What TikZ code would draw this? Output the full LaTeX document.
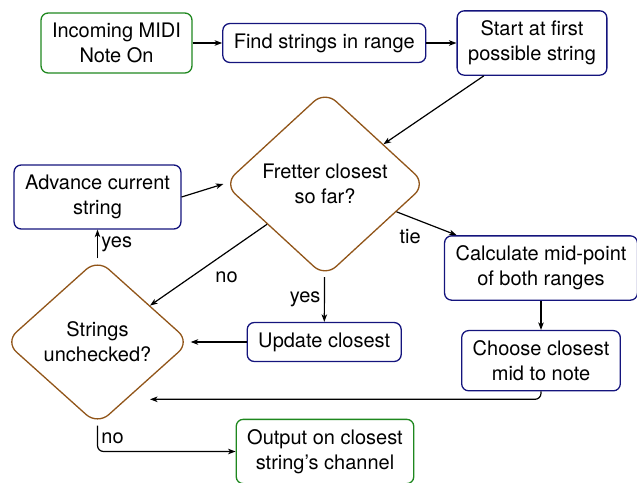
\documentclass[tikz,border=0pt]{standalone}
\usepackage{fontspec}
\setmainfont{TeX Gyre Heros}
\usepackage[svgnames]{xcolor}
\usetikzlibrary{shapes.geometric}
\usetikzlibrary{arrows.meta}

\definecolor{termgreen}{RGB}{30,135,30}
\definecolor{stepblue}{RGB}{20,20,125}
\definecolor{askbrown}{RGB}{145,85,25}

\begin{document}
\begin{tikzpicture}[x=1pt,y=-1pt,
    font=\fontsize{20}{25}\selectfont,
    termn/.style={draw=termgreen, line width=1.3pt, rounded corners=7pt,
      align=center, inner xsep=11pt, inner ysep=10pt},
    stepn/.style={draw=stepblue, line width=1.3pt, rounded corners=7pt,
      align=center, inner xsep=11pt, inner ysep=10pt},
    askn/.style={diamond, draw=askbrown, line width=1.3pt, rounded corners=15pt,
      align=center, inner sep=0pt},
    flow/.style={->, line width=1.2pt},
    >={Stealth[length=7.5pt,width=5.5pt,inset=2pt]}]
    \useasboundingbox (0,0) rectangle (637,482);
    \node[termn] (incoming) at (116.5,43) {Incoming MIDI\\Note On};
    \node[stepn] (find) at (324.3,43) {Find strings in range};
    \node[stepn] (start) at (532,43) {Start at first\\possible string};
    \node[askn, minimum width=202pt, minimum height=186pt] (fretter) at (325,184)
      {Fretter closest\\so far?};
    \node[stepn] (advance) at (97.5,197) {Advance current\\string};
    \node[askn, minimum width=185pt, minimum height=166pt] (strings) at (97.5,342)
      {Strings\\unchecked?};
    \node[stepn] (update) at (324.2,342) {Update closest};
    \node[stepn] (calc) at (541,268) {Calculate mid-point\\of both ranges};
    \node[stepn] (choose) at (541,360.7) {Choose closest\\mid to note};
    \node[termn] (output) at (325,451.5) {Output on closest\\string's channel};
    \coordinate (loopin) at (150,399.3);

    \draw[flow] (incoming) -- (find);
    \draw[flow] (find) -- (start);
    \draw[flow] (start) -- (fretter);
    \draw[flow] (advance.east) -- (fretter.west);
    \draw[flow] (fretter) -- node[below right, xshift=3pt, yshift=-3pt] {no} (strings);
    \draw[flow] (fretter) -- node[left] {yes} (update);
    \draw[flow] (fretter) -- node[below left, xshift=-2pt, yshift=-2pt] {tie} (calc);
    \draw[flow] (update) -- (strings);
    \draw[flow] (strings) -- node[right] {yes} (advance);
    \draw[flow] (calc) -- (choose);
    \draw[flow, rounded corners=6pt] (choose) |- (loopin);
    \draw[flow, rounded corners=6pt] (strings) |- node[pos=0.25, right] {no} (output);
  \end{tikzpicture}
\end{document}
